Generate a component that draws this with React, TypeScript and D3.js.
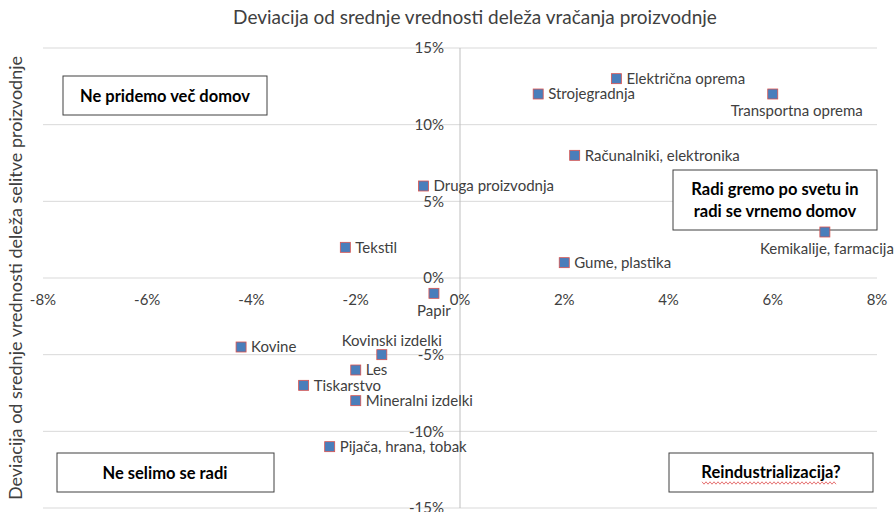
import React from 'react'
import * as d3 from 'd3'

// sectors with (x: deviation of reshoring share, y: deviation of relocation share), in %
const sectors = [
  'Električna oprema',
  'Strojegradnja',
  'Transportna oprema',
  'Računalniki, elektronika',
  'Druga proizvodnja',
  'Kemikalije, farmacija',
  'Tekstil',
  'Gume, plastika',
  'Papir',
  'Kovine',
  'Kovinski izdelki',
  'Les',
  'Tiskarstvo',
  'Mineralni izdelki',
  'Pijača, hrana, tobak',
]
const xValues = [3, 1.5, 6, 2.2, -0.7, 7, -2.2, 2, -0.5, -4.2, -1.5, -2, -3, -2, -2.5]
const yValues = [13, 12, 12, 8, 6, 3, 2, 1, -1, -4.5, -5, -6, -7, -8, -11]

// label placement per point (layout only)
const labelPos = ['right', 'right', 'below', 'right', 'right', 'below', 'right', 'right', 'below', 'right', 'above', 'right', 'right', 'right', 'right']
const labelNudge = [0, 0, 24, 0, 0, 2, 0, 0, 0, 0, 10, 0, 0, 0, 0]

const xTicks = [-8, -6, -4, -2, 0, 2, 4, 6, 8]
const yTicks = [-15, -10, -5, 0, 5, 10, 15]

const title = 'Deviacija od srednje vrednosti deleža vračanja proizvodnje'
const yTitle = 'Deviacija od srednje vrednosti deleža selitve proizvodnje'

const W = 895
const H = 512
const FONT = 'Lato, "Open Sans", sans-serif'

export default function App() {
  const x = d3.scaleLinear().domain([-8, 8]).range([43, 877])
  const y = d3.scaleLinear().domain([-15, 15]).range([508, 48])
  const fmt = (v: number) => `${v}%`

  const squiggle = (x0: number, x1: number, yy: number) => {
    const pts: [number, number][] = []
    let up = true
    for (let px = x0; px <= x1; px += 2) {
      pts.push([px, up ? yy - 1.2 : yy + 1.2])
      up = !up
    }
    return d3.line()(pts) || ''
  }

  return (
    <svg width={W} height={H} style={{ position: 'absolute', left: 0, top: 0, background: '#fff' }} fontFamily={FONT}>
      <rect width={W} height={H} fill="#fff" />
      <text x={475} y={24} textAnchor="middle" fontSize={19} fill="#404040">{title}</text>
      <text transform={`translate(22,${y(0)}) rotate(-90)`} textAnchor="middle" fontSize={18} fill="#404040">{yTitle}</text>

      {yTicks.map((t) => (
        <g key={t}>
          <line x1={x(-8)} x2={x(8)} y1={y(t)} y2={y(t)} stroke="#d9d9d9" strokeWidth={1} />
          <text x={444} y={y(t)} dy="0.35em" textAnchor="end" fontSize={15} fill="#404040">{fmt(t)}</text>
        </g>
      ))}
      <line x1={x(0)} x2={x(0)} y1={y(15)} y2={y(-15)} stroke="#bfbfbf" strokeWidth={1} />
      {xTicks.map((t) => (
        <text key={t} x={x(t)} y={y(0) + 22} dy="0.35em" textAnchor="middle" fontSize={15} fill="#404040">{fmt(t)}</text>
      ))}

      {/* quadrant text boxes */}
      <rect x={63} y={76} width={204} height={39} fill="#fff" stroke="#404040" />
      <text x={165} y={96} dy="0.35em" textAnchor="middle" fontSize={16.5} fontWeight="bold" fill="#000">Ne pridemo več domov</text>

      <rect x={673} y={170} width={204} height={60} fill="#fff" stroke="#404040" />
      <text x={775} y={189} dy="0.35em" textAnchor="middle" fontSize={16.5} fontWeight="bold" fill="#000">Radi gremo po svetu in</text>
      <text x={775} y={211} dy="0.35em" textAnchor="middle" fontSize={16.5} fontWeight="bold" fill="#000">radi se vrnemo domov</text>

      <rect x={57} y={453} width={217} height={39} fill="#fff" stroke="#404040" />
      <text x={165} y={473} dy="0.35em" textAnchor="middle" fontSize={16.5} fontWeight="bold" fill="#000">Ne selimo se radi</text>

      <rect x={669} y={453} width={204} height={39} fill="#fff" stroke="#404040" />
      <text x={771} y={472} dy="0.35em" textAnchor="middle" fontSize={16.5} fontWeight="bold" fill="#000">Reindustrializacija?</text>
      <path d={squiggle(702, 836, 483)} fill="none" stroke="#e05050" strokeWidth={0.8} />

      {sectors.map((s, i) => {
        const cx = x(xValues[i])
        const cy = y(yValues[i])
        const pos = labelPos[i]
        const nudge = labelNudge[i]
        let lx = cx + 10
        let ly = cy
        let anchor = 'start'
        if (pos === 'below') {
          lx = cx + nudge
          ly = cy + 17
          anchor = 'middle'
        } else if (pos === 'above') {
          lx = cx + nudge
          ly = cy - 14
          anchor = 'middle'
        }
        return (
          <g key={s}>
            <rect x={cx - 5} y={cy - 5} width={10} height={10} fill="#4a7ebb" stroke="#d9534f" strokeWidth={0.8} />
            <text x={lx} y={ly} dy="0.35em" textAnchor={anchor} fontSize={15} fill="#404040">{s}</text>
          </g>
        )
      })}
    </svg>
  )
}
